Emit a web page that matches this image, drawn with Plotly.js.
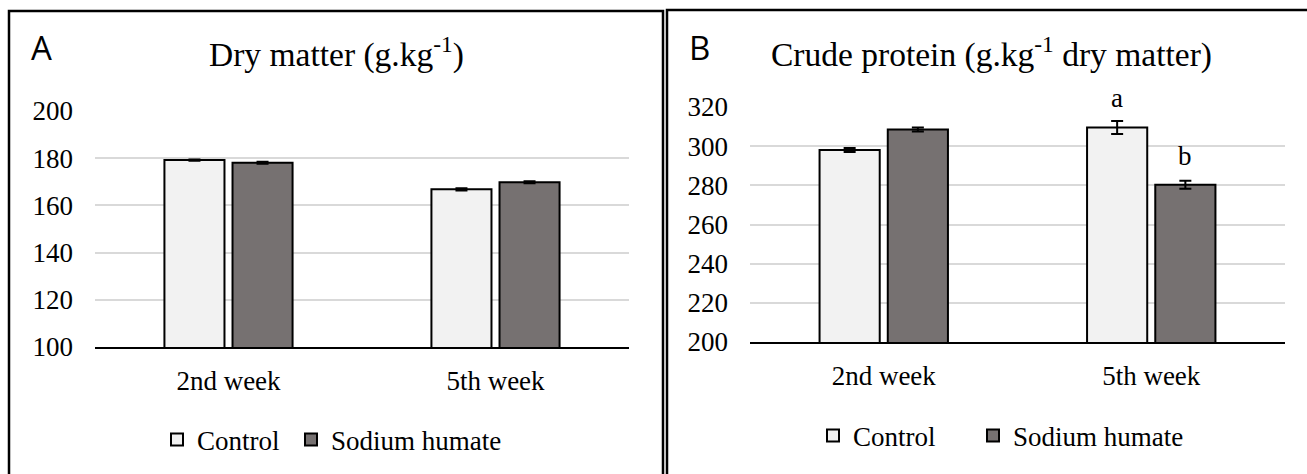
<!DOCTYPE html>
<html>
<head>
<meta charset="utf-8">
<script src="https://cdn.plot.ly/plotly-3.0.1.min.js"></script>
<style>html,body{margin:0;padding:0;background:#fff}#chart{width:1307px;height:474px}</style>
</head>
<body>
<div id="chart"></div>
<script>
// ---- data ----
const categories = ['2nd week', '5th week'];
const seriesNames = ['Control', 'Sodium humate'];
// Panel A: Dry matter (g.kg-1)
const dmControl = [179.2, 166.8];
const dmControlErr = [0.3, 0.5];
const dmSodium = [178.1, 169.8];
const dmSodiumErr = [0.4, 0.4];
// Panel B: Crude protein (g.kg-1 dry matter)
const cpControl = [298.0, 309.5];
const cpControlErr = [1.0, 3.3];
const cpSodium = [308.5, 280.3];
const cpSodiumErr = [1.0, 2.0];
const cpControlLetters = ['', 'a'];
const cpSodiumLetters = ['', 'b'];
const dmTicks = [100, 120, 140, 160, 180, 200];
const cpTicks = [200, 220, 240, 260, 280, 300, 320];

// ---- layout helpers ----
const W = 1307, H = 474;
const px = v => v / W;
const py = v => 1 - v / H;
const serif = 'Liberation Serif';
const colControl = '#f2f2f2', colSodium = '#767171';

function barTrace(y, err, name, color, xa, ya, legend) {
  return {
    type: 'bar', x: categories, y: y, name: name, xaxis: xa, yaxis: ya,
    legend: legend, showlegend: true,
    marker: {color: color, line: {color: '#000', width: 2}},
    error_y: {type: 'data', array: err, visible: true, color: '#000', thickness: 2, width: 6},
    hoverinfo: 'x+y+name'
  };
}

const data = [
  barTrace(dmControl, dmControlErr, seriesNames[0], colControl, 'x', 'y', 'legend'),
  barTrace(dmSodium, dmSodiumErr, seriesNames[1], colSodium, 'x', 'y', 'legend2'),
  barTrace(cpControl, cpControlErr, seriesNames[0], colControl, 'x2', 'y2', 'legend3'),
  barTrace(cpSodium, cpSodiumErr, seriesNames[1], colSodium, 'x2', 'y2', 'legend4')
];

const yax = (domain, range, ticks, anchor) => ({
  domain: domain, range: range, tickvals: ticks, anchor: anchor,
  showgrid: true, gridcolor: '#d9d9d9', gridwidth: 2,
  zeroline: false, showline: false, ticks: '',
  ticklabelstandoff: 21,
  tickfont: {family: serif, size: 27, color: '#000'}, fixedrange: true
});
const xax = (domain, anchor) => ({
  domain: domain, anchor: anchor, type: 'category',
  showline: true, linecolor: '#000', linewidth: 2, ticks: '',
  ticklabelstandoff: 9,
  tickfont: {family: serif, size: 27, color: '#000'}, fixedrange: true
});

const annotations = [
  {text: 'A', xref: 'paper', yref: 'paper', x: px(29), y: py(47), xanchor: 'left', yanchor: 'middle',
   showarrow: false, font: {family: 'Open Sans', size: 33, color: '#000'}},
  {text: 'B', xref: 'paper', yref: 'paper', x: px(687), y: py(48), xanchor: 'left', yanchor: 'middle',
   showarrow: false, font: {family: 'Open Sans', size: 33, color: '#000'}},
  {text: 'Dry matter (g.kg<sup>-1</sup>)', xref: 'paper', yref: 'paper', x: px(336), y: py(53),
   xanchor: 'center', yanchor: 'middle', showarrow: false, font: {family: serif, size: 33.5, color: '#000'}},
  {text: 'Crude protein (g.kg<sup>-1</sup> dry matter)', xref: 'paper', yref: 'paper', x: px(991), y: py(52),
   xanchor: 'center', yanchor: 'middle', showarrow: false, font: {family: serif, size: 33.5, color: '#000'}}
];
categories.forEach((c, i) => {
  if (cpControlLetters[i]) annotations.push({text: cpControlLetters[i], xref: 'x2', yref: 'y2', x: c,
    y: cpControl[i] + cpControlErr[i], xshift: -34, yshift: 6, yanchor: 'bottom', showarrow: false,
    font: {family: serif, size: 27, color: '#000'}});
  if (cpSodiumLetters[i]) annotations.push({text: cpSodiumLetters[i], xref: 'x2', yref: 'y2', x: c,
    y: cpSodium[i] + cpSodiumErr[i], xshift: 34, yshift: 8, yanchor: 'bottom', showarrow: false,
    font: {family: serif, size: 27, color: '#000'}});
});

const shapes = [
  {type: 'rect', xref: 'paper', yref: 'paper', x0: px(9), x1: px(663), y0: py(490), y1: py(11),
   line: {color: '#000', width: 2.5}, fillcolor: 'rgba(0,0,0,0)', layer: 'below'},
  {type: 'rect', xref: 'paper', yref: 'paper', x0: px(667), x1: px(1320), y0: py(490), y1: py(10),
   line: {color: '#000', width: 2.5}, fillcolor: 'rgba(0,0,0,0)', layer: 'below'}
];

const legendBase = (x, y) => ({
  x: x, y: y, xanchor: 'left', yanchor: 'middle', orientation: 'h',
  font: {family: serif, size: 27, color: '#000'}, bgcolor: 'rgba(0,0,0,0)',
  itemclick: false, itemdoubleclick: false
});

const layout = {
  width: W, height: H, margin: {l: 0, r: 0, t: 0, b: 0},
  paper_bgcolor: '#fff', plot_bgcolor: 'rgba(0,0,0,0)',
  font: {family: serif, color: '#000'},
  barmode: 'group', bargap: 0.49, bargroupgap: 0.118,
  xaxis: xax([px(95), px(629)], 'y'),
  yaxis: yax([py(347), py(111)], [100, 200], dmTicks, 'x'),
  xaxis2: xax([px(750), px(1285)], 'y2'),
  yaxis2: yax([py(342), py(107)], [200, 320], cpTicks, 'x2'),
  legend: legendBase(px(157), py(440)),
  legend2: legendBase(px(291), py(440)),
  legend3: legendBase(px(813), py(436)),
  legend4: legendBase(px(973), py(436)),
  annotations: annotations, shapes: shapes,
  showlegend: true
};

Plotly.newPlot('chart', data, layout, {displayModeBar: false, staticPlot: true});
</script>
</body>
</html>
